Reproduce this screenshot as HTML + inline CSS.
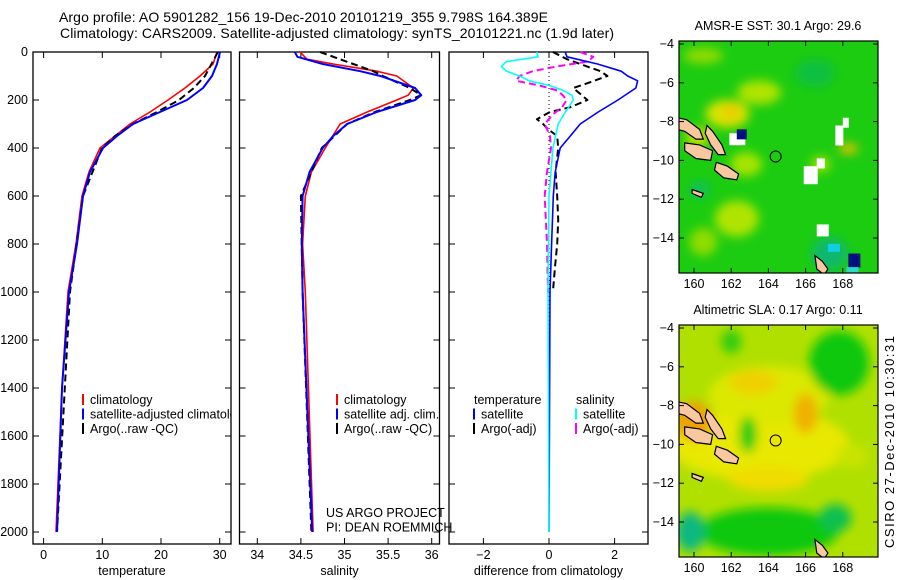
<!DOCTYPE html>
<html><head><meta charset="utf-8"><style>
body{margin:0;background:#fff;}
svg{display:block;font-family:"Liberation Sans",sans-serif;}
</style></head><body>
<svg id="fig" width="900" height="580" viewBox="0 0 900 580">
<defs>
<filter id="blur6" x="-50%" y="-50%" width="200%" height="200%"><feGaussianBlur stdDeviation="5"/></filter>
<clipPath id="clipM1"><rect x="679" y="41" width="199" height="232"/></clipPath>
<clipPath id="clipM2"><rect x="679" y="325" width="199" height="232"/></clipPath>
<clipPath id="clipP1"><rect x="33" y="52" width="198" height="492"/></clipPath>
</defs>
<text x="303.5" y="22" font-size="14" text-anchor="middle" textLength="489" lengthAdjust="spacing">Argo profile: AO 5901282_156 19-Dec-2010 20101219_355 9.798S 164.389E</text>
<text x="337" y="38" font-size="14" text-anchor="middle" textLength="554" lengthAdjust="spacing">Climatology: CARS2009. Satellite-adjusted climatology: synTS_20101221.nc (1.9d later)</text>
<g id="plots"></g>
<g id="maps"></g>
<text transform="translate(894,442) rotate(-90)" font-size="13" text-anchor="middle" textLength="212" lengthAdjust="spacing">CSIRO 27-Dec-2010 10:30:31</text>
</svg>
<script>
// ---- data ----
const depthsT = [0,50,100,150,200,250,300,350,400,500,600,800,1000,1400,2000];
const tempSat = [30.05,29.54,28.69,27.16,24.43,19.83,15.23,12.50,10.12,7.90,6.71,5.69,4.33,3.13,2.28];
const depthsTC = [0,50,100,150,200,250,300,400,500,600,800,1000,1400,2000];
const tempClim = [29.54,28.86,26.64,24.09,21.19,18.13,14.72,9.61,7.73,6.54,5.52,4.16,3.13,2.11];
const depthsTA = [0,100,150,200,250,300,350,400,600,1000,2000];
const tempArgo = [29.7,27.5,25.6,23.06,19.32,15.23,12.16,9.95,6.71,4.5,2.28];

const depthsS = [0,20,50,80,100,150,180,200,250,300,350,400,500,600,800,1000,2000];
const salSat = [34.43,34.46,34.75,35.18,35.41,35.81,35.88,35.81,35.37,35.03,34.87,34.75,34.60,34.52,34.51,34.52,34.63];
const depthsSC = [0,30,50,80,100,150,180,200,250,300,400,500,600,800,1000,2000];
const salClim = [34.49,34.57,34.87,35.37,35.60,35.79,35.73,35.60,35.26,34.95,34.78,34.62,34.55,34.52,34.55,34.64];
const depthsSA = [0,50,80,100,150,180,200,250,300,400,600,1000,2000];
const salArgo = [34.72,35.10,35.33,35.44,35.75,35.88,35.75,35.35,35.03,34.74,34.50,34.52,34.62];

const depthsD1 = [0,20,50,80,100,120,150,200,250,300,350,400,500,600,800,1000,2000];
const dTempSat = [0.49,0.55,1.48,2.2,2.4,2.7,2.65,2.1,1.5,0.95,0.65,0.34,0.19,0.13,0.08,0.03,0.0];
const depthsD2 = [0,30,50,80,100,130,150,200,230,250,280,300,320,350,400,500,600,700,800,900,1000];
const dTempArgo = [0.12,0.55,0.95,1.57,1.78,1.17,0.74,1.17,0.65,0.03,-0.37,-0.18,-0.05,0.25,0.28,0.2,0.25,0.28,0.25,0.18,0.12];
const depthsD3 = [0,20,40,60,80,100,120,140,160,180,200,230,250,300,400,600,1000,2000];
const dSalSat = [-0.37,-0.33,-1.3,-1.45,-1.3,-0.9,-0.6,0.03,0.43,0.7,0.74,0.6,0.5,0.28,0.12,0.0,-0.03,0.0];
const depthsD4 = [0,20,40,60,80,100,120,140,160,180,200,230,260,300,350,400,500,600,800,1000];
const dSalArgo = [0.95,1.35,1.17,0.25,-0.5,-0.9,-1.0,-0.28,0.25,0.42,0.54,0.4,0.12,-0.13,0.03,0.06,-0.06,-0.13,-0.06,-0.03];

const depthTicks = [0,200,400,600,800,1000,1200,1400,1600,1800,2000];
const tempTicks = [0,10,20,30];
const salTicks = [34,34.5,35,35.5,36];
const salTickLabels = ["34","34.5","35","35.5","36"];
const diffTicks = [-2,0,2];
const lonTicks = [160,162,164,166,168];
const latTicks = [-4,-6,-8,-10,-12,-14];

// ---- helpers ----
const NS="http://www.w3.org/2000/svg";
function mk(tag,attrs,parent,txt){const e=document.createElementNS(NS,tag);for(const k in attrs)e.setAttribute(k,attrs[k]);if(txt!==undefined)e.textContent=txt;parent.appendChild(e);return e;}
const yD = d => 52 + d*0.24;
const PT = 52, PB = 544;
const plots = document.getElementById('plots');

function panel(name,x0,x1,xs,ticks,labels,xlabel,yLabels){
  const g = mk('g',{},plots);
  
  
  const r = mk('rect',{x:x0,y:PT,width:x1-x0,height:PB-PT,fill:'none',stroke:'#000','stroke-width':1.3},g);
  
  
  ticks.forEach((t,i)=>{
    const x=xs(t);
    mk('line',{x1:x,x2:x,y1:PB,y2:PB-6,stroke:'#000'},g);
    mk('line',{x1:x,x2:x,y1:PT,y2:PT+6,stroke:'#000'},g);
    const tl = mk('text',{x:x,y:PB+15,'font-size':12.5,'text-anchor':'middle'},g,labels[i]);
    
    
  });
  depthTicks.forEach(d=>{
    mk('line',{x1:x0,x2:x0+6,y1:yD(d),y2:yD(d),stroke:'#000'},g);
    mk('line',{x1:x1,x2:x1-6,y1:yD(d),y2:yD(d),stroke:'#000'},g);
    if(yLabels){
      const yl = mk('text',{x:x0-5,y:yD(d)+4,'font-size':12.5,'text-anchor':'end'},g,String(d));
      
      
    }
  });
  const xt = mk('text',{x:(x0+x1)/2,y:PB+31,'font-size':12.5,'text-anchor':'middle'},g,xlabel);
  
  
  return g;
}
function series(g,name,xs,vals,deps,color,w,dash){
  const pts = vals.map((v,i)=>xs(v).toFixed(1)+','+yD(deps[i]).toFixed(1)).join(' ');
  const a={points:pts,fill:'none',stroke:color,'stroke-width':w,'stroke-linejoin':'round'};
  if(dash)a['stroke-dasharray']=dash;
  const p = mk('polyline',a,g);
  
  
}
function legend(g,x,y,items){
  items.forEach((it,i)=>{
    const yy=y+i*14.5;
    if(it.c) mk('line',{x1:x,x2:x,y1:yy-10,y2:yy+1,stroke:it.c,'stroke-width':2},g);
    const t = mk('text',{x:x+(it.c?7:0),y:yy,'font-size':12.5},g,it.t);
    
    
  });
}

// temperature panel
const xT = v => 43.6 + v*5.87;
const g1 = panel('temperature-panel',33,231,xT,tempTicks,tempTicks.map(String),'temperature',true);
series(g1,'temp-climatology-line',xT,tempClim,depthsTC,'#f00',1.6);
series(g1,'temp-argo-line',xT,tempArgo,depthsTA,'#000',2,'7,4');
series(g1,'temp-satellite-line',xT,tempSat,depthsT,'#00f',2);
const lg1 = mk('g',{'clip-path':'url(#clipP1)'},g1);
legend(lg1,83,404,[{t:'climatology',c:'#f00'},{t:'satellite-adjusted climatology',c:'#00f'},{t:'Argo(..raw -QC)',c:'#000'}]);

// salinity panel
const xS = v => 257.3 + (v-34)*87.2;
const g2 = panel('salinity-panel',239.5,439.5,xS,salTicks,salTickLabels,'salinity',false);
series(g2,'sal-climatology-line',xS,salClim,depthsSC,'#f00',1.6);
series(g2,'sal-argo-line',xS,salArgo,depthsSA,'#000',2,'7,4');
series(g2,'sal-satellite-line',xS,salSat,depthsS,'#00f',2);
legend(g2,337,404,[{t:'climatology',c:'#f00'},{t:'satellite adj. clim.',c:'#00f'},{t:'Argo(..raw -QC)',c:'#000'}]);
legend(g2,326,517,[{t:'US ARGO PROJECT'},{t:'PI: DEAN ROEMMICH'}]);

// difference panel
const xDf = v => 549 + v*32.8;
const g3 = panel('difference-panel',449,648,xDf,diffTicks,diffTicks.map(v=>v<0?'−'+Math.abs(v):String(v)),'difference from climatology',false);
mk('line',{x1:xDf(0),x2:xDf(0),y1:PT,y2:yD(2000),stroke:'#000','stroke-dasharray':'1,3'},g3);
series(g3,'diff-temp-argo-line',xDf,dTempArgo,depthsD2,'#000',2,'7,4');
series(g3,'diff-sal-argo-line',xDf,dSalArgo,depthsD4,'#f0f',2,'7,4');
series(g3,'diff-temp-satellite-line',xDf,dTempSat,depthsD1,'#00f',1.6);
series(g3,'diff-sal-satellite-line',xDf,dSalSat,depthsD3,'#0ff',1.6);
legend(g3,474,404,[{t:'temperature'},{t:'satellite',c:'#00f'},{t:'Argo(-adj)',c:'#000'}]);
legend(g3,576,404,[{t:'salinity'},{t:'satellite',c:'#0ff'},{t:'Argo(-adj)',c:'#f0f'}]);

// ---- maps ----
const maps = document.getElementById('maps');
const islands = [
 [[159.1,-7.8],[159.6,-7.9],[160.3,-8.4],[160.5,-8.9],[160.1,-8.9],[159.5,-8.5],[159.1,-8.4]],
 [[160.7,-8.2],[161.0,-8.5],[161.5,-9.2],[161.7,-9.7],[161.3,-9.7],[160.9,-9.2],[160.6,-8.6]],
 [[159.5,-9.1],[160.3,-9.2],[161.0,-9.5],[160.9,-10.0],[160.1,-9.9],[159.5,-9.5]],
 [[161.2,-10.1],[161.8,-10.3],[162.4,-10.7],[162.3,-11.0],[161.6,-10.9],[161.1,-10.5]],
 [[166.5,-14.9],[166.9,-15.2],[167.2,-15.6],[167.0,-15.9],[166.6,-15.6]],
 [[159.9,-11.5],[160.5,-11.7],[160.4,-11.9],[159.9,-11.7]]
];
function drawMap(name,y0,yLat,title,blobs,base){
  const g = mk('g',{},maps);
  
  
  const X = lon => 694 + (lon-160)*18.6;
  const Y = lat => yLat + (-4-lat)*19.4;
  const inner = mk('g',{'clip-path':'url(#'+(y0<100?'clipM1':'clipM2')+')'},g);
  mk('rect',{x:679,y:y0,width:199,height:232,fill:base},inner);
  const bg = mk('g',{filter:'url(#blur6)'},inner);
  blobs.forEach(b=>{
    if(b.sq){ mk('rect',{x:X(b.lon),y:Y(b.lat),width:b.rx,height:b.ry,fill:b.c},inner); }
    else mk('ellipse',{cx:X(b.lon),cy:Y(b.lat),rx:b.rx,ry:b.ry,fill:b.c},bg);
  });
  islands.forEach(p=>{
    mk('polygon',{points:p.map(q=>X(q[0]).toFixed(1)+','+Y(q[1]).toFixed(1)).join(' '),fill:'#fac8a0',stroke:'#000','stroke-width':1.2},inner);
  });
  const c = mk('circle',{cx:X(164.39),cy:Y(-9.8),r:5.5,fill:'none',stroke:'#000'},inner);
  
  
  mk('rect',{x:679,y:y0,width:199,height:232,fill:'none',stroke:'#000','stroke-width':1.2},g);
  lonTicks.forEach(l=>{
    mk('line',{x1:X(l),x2:X(l),y1:y0+232,y2:y0+227,stroke:'#000'},g);
    mk('line',{x1:X(l),x2:X(l),y1:y0,y2:y0+5,stroke:'#000'},g);
    const t = mk('text',{x:X(l),y:y0+247,'font-size':12.5,'text-anchor':'middle'},g,String(l));
    
    
  });
  latTicks.forEach(l=>{
    mk('line',{x1:679,x2:684,y1:Y(l),y2:Y(l),stroke:'#000'},g);
    mk('line',{x1:878,x2:873,y1:Y(l),y2:Y(l),stroke:'#000'},g);
    const t = mk('text',{x:674,y:Y(l)+4,'font-size':12.5,'text-anchor':'end'},g,'−'+Math.abs(l));
    
    
  });
  const tt = mk('text',{x:778,y:y0-11,'font-size':12.5,'text-anchor':'middle'},g,title);
  
  
}
drawMap('sst-map',41,44,'AMSR-E SST: 30.1 Argo: 29.6',[
 {lon:161.8,lat:-7.6,rx:22,ry:14,c:'#d8e400'},{lon:162,lat:-7.5,rx:9,ry:7,c:'#f0c800'},
 {lon:163.5,lat:-6.5,rx:22,ry:12,c:'#b0e400'},{lon:160.2,lat:-8.8,rx:12,ry:10,c:'#c8e000'},
 {lon:162.8,lat:-10.2,rx:16,ry:12,c:'#a8e400'},{lon:162.3,lat:-13,rx:22,ry:18,c:'#b0e400'},
 {lon:160.5,lat:-14.2,rx:14,ry:14,c:'#90dc00'},{lon:160.5,lat:-4.6,rx:20,ry:8,c:'#90dc00'},
 {lon:166.5,lat:-5.5,rx:20,ry:14,c:'#10c040'},{lon:167.3,lat:-14.8,rx:18,ry:16,c:'#10b870'},
 {lon:166.8,lat:-10.2,rx:10,ry:8,c:'#a0e000'},{lon:168.3,lat:-9.4,rx:10,ry:5,c:'#f0c000'},
 {lon:160.3,lat:-11.5,rx:10,ry:8,c:'#10c060'},
 {sq:1,lon:165.9,lat:-10.3,rx:14,ry:18,c:'#fff'},{sq:1,lon:166.6,lat:-9.9,rx:8,ry:10,c:'#fff'},
 {sq:1,lon:167.6,lat:-8.2,rx:8,ry:20,c:'#fff'},{sq:1,lon:168.0,lat:-7.8,rx:6,ry:10,c:'#fff'},
 {sq:1,lon:161.9,lat:-8.6,rx:16,ry:12,c:'#fff'},{sq:1,lon:162.3,lat:-8.4,rx:10,ry:10,c:'#001080'},
 {sq:1,lon:166.6,lat:-13.3,rx:12,ry:12,c:'#fff'},{sq:1,lon:168.3,lat:-14.8,rx:12,ry:14,c:'#001080'},
 {sq:1,lon:168.2,lat:-15.5,rx:12,ry:8,c:'#30d8c8'},{sq:1,lon:167.2,lat:-14.3,rx:12,ry:8,c:'#10d0e0'}
],'#1ccc10');
drawMap('sla-map',325,328,'Altimetric SLA: 0.17 Argo: 0.11',[
 {lon:163.5,lat:-10,rx:90,ry:36,c:'#e8e800'},{lon:164,lat:-7.5,rx:60,ry:30,c:'#dce800'},
 {lon:160,lat:-8.8,rx:18,ry:20,c:'#f0a000'},{lon:166,lat:-8.4,rx:12,ry:20,c:'#f0b000'},
 {lon:163.2,lat:-6.8,rx:24,ry:12,c:'#f0d000'},{lon:164,lat:-11.8,rx:40,ry:12,c:'#f0dc00'},
 {lon:162.9,lat:-9.5,rx:9,ry:18,c:'#20cc10'},{lon:167.8,lat:-5.8,rx:30,ry:32,c:'#10c810'},
 {lon:164,lat:-14.5,rx:70,ry:24,c:'#10c810'},{lon:159.8,lat:-14.5,rx:14,ry:20,c:'#10b880'},
 {lon:167.6,lat:-13.8,rx:16,ry:14,c:'#10c050'},{lon:162,lat:-4.7,rx:10,ry:12,c:'#30cc10'},
 {lon:168.5,lat:-10.6,rx:16,ry:12,c:'#c8e400'}
],'#b0e000');
</script>
</body></html>
